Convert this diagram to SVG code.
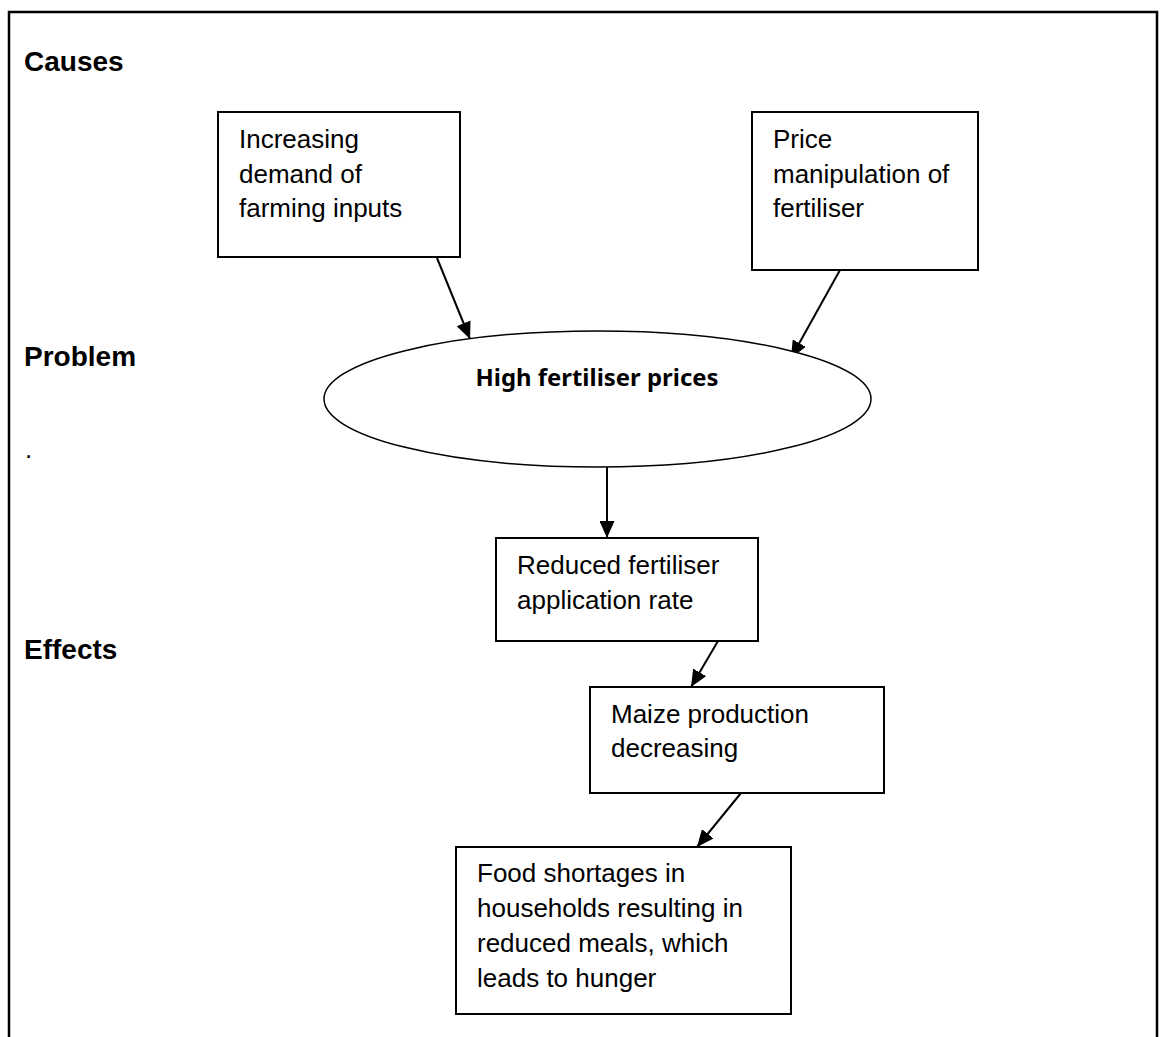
<svg xmlns="http://www.w3.org/2000/svg" width="1160" height="1037" viewBox="0 0 1160 1037">
<style>
  .box { fill: #ffffff; stroke: #000000; stroke-width: 2; }
  .txt { font-family: "Liberation Sans", Arial, sans-serif; font-size: 26px; fill: #000000; }
  .hdr { font-family: "Liberation Sans", Arial, sans-serif; font-size: 28px; font-weight: bold; fill: #000000; }
  .etxt { font-family: "Noto Sans", "Open Sans", sans-serif; font-size: 23px; font-weight: bold; fill: #000000; }
  .conn { stroke: #000000; stroke-width: 2; fill: none; marker-end: url(#arrow); }
</style>
<defs>
  <marker id="arrow" markerUnits="userSpaceOnUse" markerWidth="17" markerHeight="15" refX="17" refY="7.5" orient="auto">
    <path d="M0,0 L17,7.5 L0,15 Z" fill="#000000"/>
  </marker>
</defs>
<rect x="0" y="0" width="1160" height="1037" fill="#ffffff"/>
<path d="M9,1040 V12 H1157 V1040" fill="none" stroke="#000000" stroke-width="2.5"/>

<g id="labels">
  <text class="hdr" x="24" y="71">Causes</text>
  <text class="hdr" x="24" y="366">Problem</text>
  <text class="hdr" x="24" y="659">Effects</text>
  <text class="txt" x="25" y="458">.</text>
</g>

<g id="connectors">
  <line class="conn" x1="437" y1="258" x2="470" y2="339"/>
  <line class="conn" x1="840" y1="270" x2="791" y2="358"/>
  <line class="conn" x1="607" y1="467" x2="607" y2="538"/>
  <line class="conn" x1="718" y1="641" x2="691" y2="687"/>
  <line class="conn" x1="741" y1="793" x2="697" y2="847"/>
</g>

<g id="node-demand">
  <rect class="box" x="218" y="112" width="242" height="145"/>
  <text class="txt" x="239" y="148">Increasing</text>
  <text class="txt" x="239" y="183">demand of</text>
  <text class="txt" x="239" y="217">farming inputs</text>
</g>

<g id="node-price">
  <rect class="box" x="752" y="112" width="226" height="158"/>
  <text class="txt" x="773" y="148">Price</text>
  <text class="txt" x="773" y="183">manipulation of</text>
  <text class="txt" x="773" y="217">fertiliser</text>
</g>

<g id="node-problem">
  <ellipse cx="597.5" cy="399" rx="273.5" ry="68" fill="#ffffff" stroke="#000000" stroke-width="1.5"/>
  <text class="etxt" x="597" y="386" text-anchor="middle" textLength="243" lengthAdjust="spacingAndGlyphs">High fertiliser prices</text>
</g>

<g id="node-reduced">
  <rect class="box" x="496" y="538" width="262" height="103"/>
  <text class="txt" x="517" y="574">Reduced fertiliser</text>
  <text class="txt" x="517" y="609">application rate</text>
</g>

<g id="node-maize">
  <rect class="box" x="590" y="687" width="294" height="106"/>
  <text class="txt" x="611" y="723">Maize production</text>
  <text class="txt" x="611" y="757">decreasing</text>
</g>

<g id="node-food">
  <rect class="box" x="456" y="847" width="335" height="167"/>
  <text class="txt" x="477" y="882">Food shortages in</text>
  <text class="txt" x="477" y="917">households resulting in</text>
  <text class="txt" x="477" y="952">reduced meals, which</text>
  <text class="txt" x="477" y="987">leads to hunger</text>
</g>
</svg>
